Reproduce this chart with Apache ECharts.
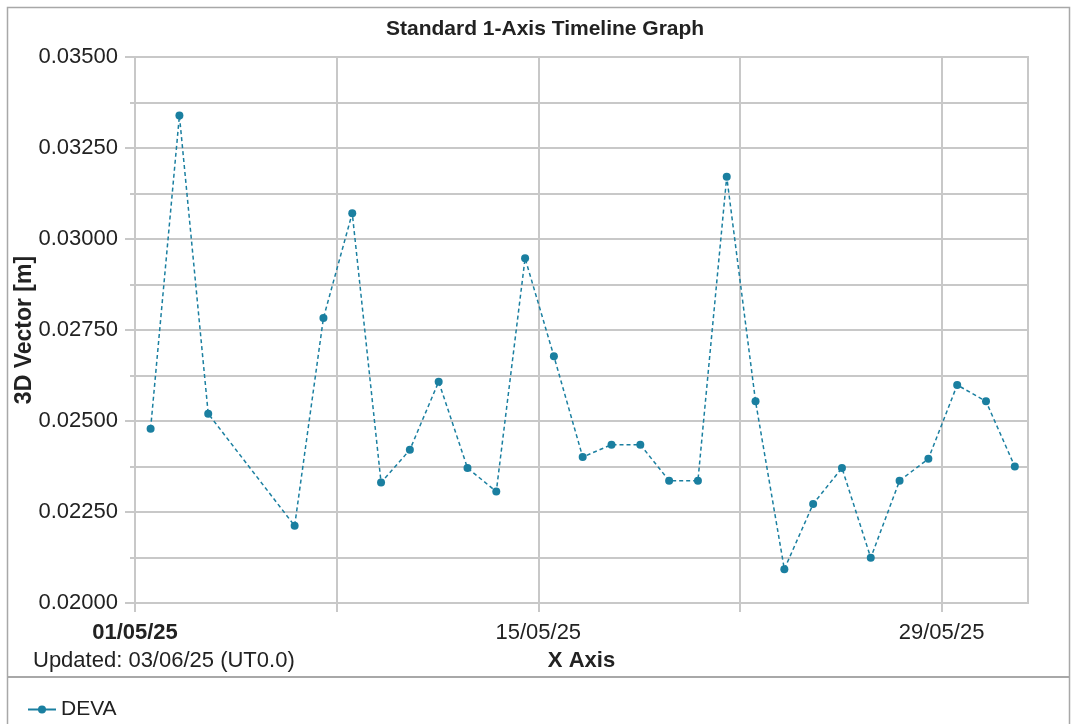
<!DOCTYPE html>
<html>
<head>
<meta charset="utf-8">
<script src="https://cdn.jsdelivr.net/npm/echarts@6/dist/echarts.min.js"></script>
<style>
html,body{margin:0;padding:0;background:#fff;}
#chart{width:1077px;height:724px;}
</style>
</head>
<body>
<div id="chart"></div>
<script>
// ---- data ----
const dates = ['2025-05-01','2025-05-02','2025-05-03','2025-05-06','2025-05-07','2025-05-08','2025-05-09',
  '2025-05-10','2025-05-11','2025-05-12','2025-05-13','2025-05-14','2025-05-15','2025-05-16','2025-05-17',
  '2025-05-18','2025-05-19','2025-05-20','2025-05-21','2025-05-22','2025-05-23','2025-05-24','2025-05-25',
  '2025-05-26','2025-05-27','2025-05-28','2025-05-29','2025-05-30','2025-05-31'];
const devaValues = [0.02479,0.03339,0.02520,0.02212,0.02783,0.03071,0.02331,
  0.02421,0.02608,0.02371,0.02306,0.02947,0.02678,0.02401,0.02435,
  0.02435,0.02336,0.02336,0.03171,0.02554,0.02093,0.02272,0.02371,
  0.02124,0.02336,0.02396,0.02599,0.02554,0.02375];
const sampleTime = 'T13:00:00Z';
const axisStart = '2025-05-01';
const xTickDays = [0,7,14,21,28];
const xLabelDays = [0,14,28];

const DAY = 86400000;
const t0 = Date.parse(axisStart + 'T00:00:00Z');
const seriesData = dates.map((d,i)=>[(Date.parse(d+sampleTime)-t0)/DAY, devaValues[i]]);
function dayLabel(v){
  const dt = new Date(t0 + v*DAY);
  const dd = String(dt.getUTCDate()).padStart(2,'0');
  const mm = String(dt.getUTCMonth()+1).padStart(2,'0');
  const yy = String(dt.getUTCFullYear()).slice(2);
  return dd+'/'+mm+'/'+yy;
}

const FONT = 'Arial, "Liberation Sans", sans-serif';
const chart = echarts.init(document.getElementById('chart'), null, {renderer:'canvas'});
chart.setOption({
  animation:false,
  backgroundColor:'#ffffff',
  textStyle:{fontFamily:FONT},
  title:{
    text:'Standard 1-Axis Timeline Graph',
    left:386, top:19, padding:0,
    textStyle:{fontFamily:FONT,fontSize:21,fontWeight:'bold',color:'#222'}
  },
  grid:{left:135, top:57, right:49, bottom:121, show:true, borderColor:'#c8c8c8', borderWidth:2,
        containLabel:false, outerBoundsMode:'none'},
  xAxis:{
    type:'value', min:0, max:31, interval:7,
    name:'X Axis', nameLocation:'middle', nameGap:47,
    nameTextStyle:{fontFamily:FONT,fontSize:22,fontWeight:'bold',color:'#222'},
    axisLine:{show:false},
    axisTick:{show:true, length:9, customValues:xTickDays, lineStyle:{color:'#c8c8c8',width:2}},
    axisLabel:{
      customValues:xLabelDays, margin:19,
      fontFamily:FONT, fontSize:22, color:'#222',
      formatter:function(v){ return v===0 ? '{b|'+dayLabel(v)+'}' : dayLabel(v); },
      rich:{b:{fontFamily:FONT,fontSize:22,fontWeight:'bold',color:'#222'}}
    },
    splitLine:{show:true, lineStyle:{color:'#c8c8c8',width:2}}
  },
  yAxis:{
    type:'value', min:0.02, max:0.035, interval:0.0025,
    axisLine:{show:false},
    axisTick:{show:true, length:10, lineStyle:{color:'#c8c8c8',width:2}},
    minorTick:{show:true, splitNumber:2, length:5, lineStyle:{color:'#c8c8c8',width:2}},
    minorSplitLine:{show:true, lineStyle:{color:'#c8c8c8',width:2}},
    axisLabel:{margin:17, fontFamily:FONT, fontSize:22, color:'#222', formatter:v=>v.toFixed(5)},
    splitLine:{show:true, lineStyle:{color:'#c8c8c8',width:2}}
  },
  legend:{
    show:true, left:22, top:694, itemWidth:28, itemHeight:10, itemGap:10,
    textStyle:{fontFamily:FONT,fontSize:21,color:'#222'},
    lineStyle:{type:'solid',width:2},
    data:['DEVA']
  },
  graphic:[
    {type:'rect', shape:{x:7.5,y:7.5,width:1062,height:740}, style:{fill:null, stroke:'#a8a8a8', lineWidth:1.5}, silent:true},
    {type:'line', shape:{x1:7,y1:677,x2:1070,y2:677}, style:{stroke:'#a8a8a8', lineWidth:2}, silent:true},
    {type:'text', left:33, top:650, style:{text:'Updated: 03/06/25 (UT0.0)', font:'22px Arial, "Liberation Sans", sans-serif', fill:'#222'}, silent:true},
    {type:'text', x:25, y:330, rotation:Math.PI/2,
     style:{text:'3D Vector [m]', font:'bold 23px Arial, "Liberation Sans", sans-serif', fill:'#222', align:'center', verticalAlign:'middle'}, silent:true}
  ],
  series:[{
    name:'DEVA', type:'line', data:seriesData,
    symbol:'circle', symbolSize:8,
    itemStyle:{color:'#1a7fa0'},
    lineStyle:{color:'#1a7fa0', width:1.5, type:[4,3]}
  }]
});
</script>
</body>
</html>
